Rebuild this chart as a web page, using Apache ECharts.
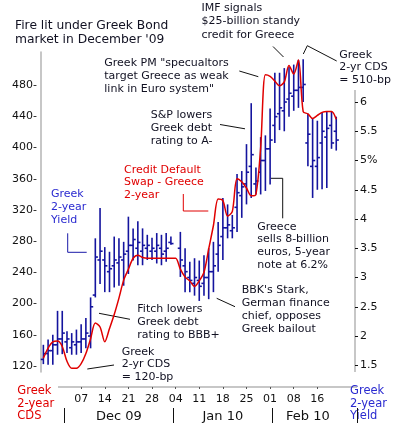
<!DOCTYPE html>
<html><head><meta charset="utf-8">
<script src="https://cdn.jsdelivr.net/npm/echarts@6/dist/echarts.min.js"></script>
<style>html,body{margin:0;padding:0;background:#fff}#c{width:398px;height:427px}</style>
</head><body><div id="c"></div>
<script>
// Trading days (category axis)
const dates = ['Nov 25','Nov 26','Nov 27','Nov 30','Dec 01','Dec 02','Dec 03','Dec 04',
'Dec 07','Dec 08','Dec 09','Dec 10','Dec 11','Dec 14','Dec 15','Dec 16','Dec 17','Dec 18',
'Dec 21','Dec 22','Dec 23','Dec 24','Dec 25','Dec 28','Dec 29','Dec 30','Dec 31','Jan 01',
'Jan 04','Jan 05','Jan 06','Jan 07','Jan 08','Jan 11','Jan 12','Jan 13','Jan 14','Jan 15',
'Jan 18','Jan 19','Jan 20','Jan 21','Jan 22','Jan 25','Jan 26','Jan 27','Jan 28','Jan 29',
'Feb 01','Feb 02','Feb 03','Feb 04','Feb 05','Feb 08','Feb 09','Feb 10','Feb 11','Feb 12',
'Feb 15','Feb 16','Feb 17','Feb 18','Feb 19','Feb 22','Feb 23','Feb 24','Feb 25'];

// Greek 2-year CDS (bp), left axis
const cds = [130,143,151,152,145,126,117,117,123,136,155,175,170,151,168,186,207,230,244,258,
262,259,258,258,258,258,258,258,258,244,234,229,222,229,240,270,300,334,332,312,
318,360,356,348,338,340,400,493,491,485,479,484,505,494,512,446,443,437,441,445,
446,446,436];

// Greek 2-year yield (%), right axis: open / close / low / high (null = no trade)
const yOpen  = [1.60,1.70,1.75,1.85,1.95,1.90,1.80,1.85,1.90,1.95,2.00,2.70,3.30,3.30,3.10,3.20,3.25,3.30,3.45,3.55,
3.50,3.45,3.50,3.45,3.45,3.50,3.45,3.60,null,3.50,3.20,3.00,2.90,2.95,2.90,3.00,3.10,3.40,3.70,3.85,
3.80,4.20,4.40,4.60,4.90,4.60,4.80,5.00,5.20,5.60,5.80,5.85,6.05,6.10,6.20,6.25,5.30,4.90,4.90,5.30,
5.40,5.60,5.50];
const yClose = [1.70,1.75,1.85,1.95,2.05,1.95,1.90,1.90,1.95,2.05,2.50,3.35,3.45,3.20,3.15,3.30,3.35,3.40,3.55,3.65,
3.60,3.55,3.55,3.50,3.55,3.40,3.50,3.58,null,3.30,3.10,2.95,3.00,2.85,3.00,3.10,3.20,3.55,3.85,3.90,
3.85,4.45,4.55,4.80,5.10,4.65,5.00,5.20,5.35,5.75,5.90,6.00,6.15,6.20,6.25,6.30,5.45,5.00,5.05,5.50,
5.55,5.30,5.35];
const yLow   = [1.52,1.51,1.51,1.68,1.69,1.71,1.68,1.68,1.71,1.79,1.79,2.66,2.89,2.75,2.75,2.83,2.86,2.86,3.06,3.29,
3.21,3.21,3.30,3.30,3.24,3.21,3.27,3.56,null,3.01,2.75,2.75,2.69,2.60,2.69,2.63,2.75,3.10,3.30,3.67,
3.67,3.78,4.02,4.25,4.36,4.42,4.42,4.48,4.59,5.30,5.52,5.50,5.75,5.85,5.90,6.00,4.90,4.36,4.50,4.51,
4.53,5.20,5.17];
const yHigh  = [1.85,1.94,2.02,2.43,2.43,2.08,2.05,2.11,2.20,2.31,2.66,3.67,4.19,3.52,3.44,3.70,3.67,3.61,4.04,3.84,
3.96,3.84,3.73,3.68,3.76,3.73,3.76,3.70,null,3.78,3.50,3.27,3.33,3.29,3.38,3.50,3.61,3.95,4.36,4.25,
4.07,4.77,4.82,5.28,5.98,4.88,5.40,5.43,5.89,6.50,6.50,6.58,6.60,6.64,6.72,6.73,5.80,5.72,5.68,5.83,
5.83,5.83,5.75];

// Axis ticks / labels
const cdsTicks = [120,160,200,240,280,320,360,400,440,480];
const yieldTicks = [1.5,2,2.5,3,3.5,4,4.5,5,5.5,6];
const dayTickDates = ['Dec 07','Dec 14','Dec 21','Dec 28','Jan 04','Jan 11','Jan 18','Jan 25','Feb 01','Feb 08','Feb 15'];
const dayTickLabels = ['07','14','21','28','04','11','18','25','01','08','16'];
const monthLabelDates = ['Dec 17','Jan 18','Feb 11'];
const monthLabels = ['Dec 09','Jan 10','Feb 10'];
const monthStartDates = ['Dec 02','Jan 04','Feb 02'];

const FONT = '"DejaVu Sans", Verdana, sans-serif';
const BLUE_BAR = '#14149e';
const RED = '#e00000';
const TXT = '#111122';
const BLUE_TXT = '#2a2ad0';

const ohlc = [];
for (let i = 0; i < yOpen.length; i++) {
  if (yOpen[i] == null) continue;
  ohlc.push([i, yOpen[i], yClose[i], yLow[i], yHigh[i]]);
}

function renderOHLC(params, api) {
  const x = api.value(0);
  const pO = api.coord([x, api.value(1)]);
  const pC = api.coord([x, api.value(2)]);
  const pL = api.coord([x, api.value(3)]);
  const pH = api.coord([x, api.value(4)]);
  const w = 2.6;
  const st = { stroke: BLUE_BAR, lineWidth: 1.6 };
  return { type: 'group', children: [
    { type: 'line', shape: { x1: pH[0], y1: pH[1], x2: pL[0], y2: pL[1] }, style: st },
    { type: 'line', shape: { x1: pO[0] - w, y1: pO[1], x2: pO[0], y2: pO[1] }, style: st },
    { type: 'line', shape: { x1: pC[0], y1: pC[1], x2: pC[0] + w, y2: pC[1] }, style: st }
  ]};
}

function txt(x, y, text, color, size, lh) {
  return { type: 'text', x: x, y: y, style: { text: text, fill: color || TXT,
    font: (size || 11) + 'px ' + FONT, lineHeight: lh || 13, verticalAlign: 'top', align: 'left' } };
}
function pl(points, color) {
  return { type: 'polyline', shape: { points: points }, style: { stroke: color || '#111', lineWidth: 1, fill: null } };
}

const chart = echarts.init(document.getElementById('c'), null, { renderer: 'canvas' });
chart.setOption({
  animation: false,
  backgroundColor: '#fff',
  grid: { left: 41, top: 52, width: 316.5, height: 320 },
  xAxis: [{
    type: 'category', data: dates, boundaryGap: true, position: 'bottom', offset: 15,
    axisLine: { show: false },
    axisTick: { show: true, alignWithLabel: true, length: 2,
      interval: (i, v) => dayTickDates.indexOf(dates[i]) >= 0, lineStyle: { color: '#555' } },
    axisLabel: { interval: (i, v) => dayTickDates.indexOf(v) >= 0,
      formatter: (v) => { const k = dayTickDates.indexOf(v); return k >= 0 ? dayTickLabels[k] : ''; },
      margin: 7, fontSize: 11, fontFamily: FONT, color: '#111' },
    splitLine: { show: false }
  }, {
    type: 'category', data: dates, boundaryGap: true, position: 'bottom', offset: 36,
    axisLine: { show: false },
    axisTick: { show: true, alignWithLabel: false, length: 15,
      interval: (i, v) => monthStartDates.indexOf(dates[i]) >= 0, lineStyle: { color: '#111', width: 1 } },
    axisLabel: { interval: (i, v) => monthLabelDates.indexOf(v) >= 0,
      formatter: (v) => { const k = monthLabelDates.indexOf(v); return k >= 0 ? monthLabels[k] : ''; },
      margin: 2, fontSize: 13, fontFamily: FONT, color: '#111' },
    splitLine: { show: false }
  }],
  yAxis: [{
    type: 'value', position: 'left', min: 112.3, max: 522.3,
    axisLine: { show: true, lineStyle: { color: '#b4b4b4', width: 1.5 } },
    axisTick: { show: false },
    splitLine: { show: false },
    axisLabel: { customValues: cdsTicks, formatter: (v) => v + '-', margin: 4,
      fontSize: 11, fontFamily: FONT, color: '#111' }
  }, {
    type: 'value', position: 'right', min: 1.385, max: 6.855, offset: -2.5,
    axisLine: { show: false },
    axisTick: { show: true, customValues: yieldTicks, length: 3, lineStyle: { color: '#111' } },
    splitLine: { show: false },
    axisLabel: { customValues: yieldTicks, formatter: (v) => (v === 5 ? '5%' : String(v)), margin: 5,
      fontSize: 11, fontFamily: FONT, color: '#111' }
  }],
  series: [{
    type: 'custom', name: 'Greek 2-year Yield', xAxisIndex: 0, yAxisIndex: 1,
    renderItem: renderOHLC, data: ohlc, encode: { x: 0, y: [1, 2, 3, 4] }, z: 2
  }, {
    type: 'line', name: 'Greek 2-year CDS', xAxisIndex: 0, yAxisIndex: 0,
    data: cds, smooth: 0.3, showSymbol: false, symbol: 'none',
    lineStyle: { color: RED, width: 1.5 }, z: 3
  }],
  graphic: [
    // axis lines drawn to match the reference extents
    { type: 'line', shape: { x1: 58, y1: 387, x2: 357, y2: 387 }, style: { stroke: '#b4b4b4', lineWidth: 1.5 } },
    { type: 'line', shape: { x1: 355, y1: 90, x2: 355, y2: 372 }, style: { stroke: '#b4b4b4', lineWidth: 1.5 } },
    // title
    txt(15, 18.5, "Fire lit under Greek Bond\nmarket in December '09", TXT, 12.3, 14.5),
    // annotations
    txt(201.5, 1.3, 'IMF signals\n$25-billion standy\ncredit for Greece', TXT, 11, 13.5),
    pl([[273, 46.5], [283.5, 57]]),
    txt(339.3, 48.5, 'Greek\n2-yr CDS\n= 510-bp', TXT, 11, 12.7),
    pl([[303.3, 54], [307.3, 45.7], [336.7, 61]]),
    txt(104.3, 56.5, 'Greek PM "specualtors\ntarget Greece as weak\nlink in Euro system"', TXT, 11, 13),
    pl([[239.3, 71], [258.3, 76.7]]),
    txt(150.7, 109, 'S&P lowers\nGreek debt\nrating to A-', TXT, 11, 13),
    pl([[220, 124.5], [245, 128.8]]),
    txt(124, 163.7, 'Credit Default\nSwap - Greece\n2-year', RED, 11, 12.6),
    pl([[183.3, 194], [183.3, 211], [208.3, 211]], RED),
    txt(51, 187.5, 'Greek\n2-year\nYield', BLUE_TXT, 11, 13),
    pl([[67.7, 233.3], [67.7, 252.3], [86.7, 252.3]], '#1a1aa8'),
    txt(137.3, 302.8, 'Fitch lowers\nGreek debt\nrating to BBB+', TXT, 11, 13),
    pl([[99, 313.3], [130, 319.3]]),
    txt(121.7, 345.3, 'Greek\n2-yr CDS\n= 120-bp', TXT, 11, 12.8),
    pl([[87.3, 369], [114, 365]]),
    txt(257.3, 220.2, 'Greece\nsells 8-billion\neuros, 5-year\nnote at 6.2%', TXT, 11, 12.9),
    pl([[270.7, 178.3], [282.7, 178.3], [282.7, 218.3]]),
    txt(241.7, 283.5, "BBK's Stark,\nGerman finance\nchief, opposes\nGreek bailout", TXT, 11, 13),
    pl([[216.7, 298.3], [235, 306.7]]),
    txt(17.3, 384.7, 'Greek\n2-year\nCDS', RED, 11.5, 12.6),
    txt(350, 384.7, 'Greek\n2-year\nYield', BLUE_TXT, 11.5, 12.6)
  ]
});
</script>
</body></html>
